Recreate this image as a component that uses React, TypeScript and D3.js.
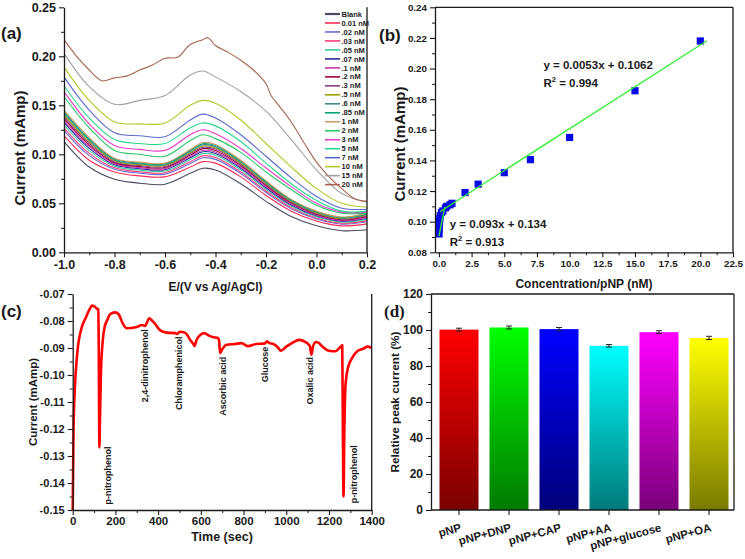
import * as d3 from "d3";
import { useEffect, useRef } from "react";

const FONT = "Arial, 'Liberation Sans', Helvetica, sans-serif";
const SERIF = "'Liberation Serif', 'DejaVu Serif', serif";
const ink = "#1a1a1a";

// ---- (a) DPV curves ----
const concLabels = ["Blank", "0.01 nM", ".02 nM", ".03 nM", ".05 nM", ".07 nM", ".1 nM", ".2 nM", ".3 nM", ".5 nM", ".6 nM", ".85 nM", "1 nM", "2 nM", "3 nM", "5 nM", "7 nM", "10 nM", "15 nM", "20 nM"];
const concColors = ["#4a4a62", "#ff2a55", "#6a6ad0", "#ff3c7c", "#3cc8a0", "#2c2c9c", "#c83caa", "#a0003c", "#8c3c8c", "#a0a000", "#3c8c8c", "#00a078", "#c8a064", "#28c864", "#e83cc8", "#28d88c", "#5a6ac8", "#b4c828", "#a0a0a0", "#a86450"];
const potentials = [-1.0, -0.9, -0.8, -0.7, -0.6, -0.5, -0.45, -0.4, -0.3, -0.2, -0.1, 0.0, 0.1, 0.2];
const dpvCurrents = [
  [0.113, 0.087, 0.0745, 0.0705, 0.0695, 0.0806, 0.0857, 0.084, 0.07, 0.052, 0.0365, 0.027, 0.022, 0.023],
  [0.119, 0.094, 0.082, 0.078, 0.077, 0.087, 0.0925, 0.091, 0.077, 0.058, 0.042, 0.032, 0.027, 0.029],
  [0.1242, 0.0986, 0.0848, 0.0808, 0.0798, 0.0906, 0.0964, 0.0948, 0.0804, 0.061, 0.0444, 0.034, 0.0288, 0.0312],
  [0.1268, 0.1009, 0.0862, 0.0822, 0.0812, 0.0924, 0.0984, 0.0967, 0.0821, 0.0625, 0.0456, 0.035, 0.0297, 0.0323],
  [0.1299, 0.1037, 0.0879, 0.0839, 0.0829, 0.0946, 0.1007, 0.099, 0.0841, 0.0643, 0.047, 0.0362, 0.0308, 0.0336],
  [0.1325, 0.106, 0.0893, 0.0853, 0.0843, 0.0964, 0.1026, 0.1009, 0.0858, 0.0658, 0.0482, 0.0372, 0.0317, 0.0347],
  [0.1346, 0.1078, 0.0904, 0.0864, 0.0854, 0.0978, 0.1042, 0.1024, 0.0872, 0.067, 0.0492, 0.038, 0.0324, 0.0356],
  [0.1367, 0.1096, 0.0915, 0.0875, 0.0865, 0.0992, 0.1058, 0.1039, 0.0886, 0.0682, 0.0502, 0.0388, 0.0331, 0.0365],
  [0.1385, 0.1113, 0.0925, 0.0885, 0.0875, 0.1005, 0.1071, 0.1053, 0.0898, 0.0693, 0.051, 0.0395, 0.0338, 0.0373],
  [0.1403, 0.1129, 0.0935, 0.0895, 0.0885, 0.1018, 0.1085, 0.1066, 0.0909, 0.0703, 0.0518, 0.0402, 0.0344, 0.038],
  [0.1419, 0.1142, 0.0943, 0.0903, 0.0893, 0.1028, 0.1097, 0.1077, 0.092, 0.0712, 0.0526, 0.0408, 0.0349, 0.0387],
  [0.1434, 0.1156, 0.0952, 0.0912, 0.0902, 0.1039, 0.1108, 0.1089, 0.093, 0.0721, 0.0533, 0.0414, 0.0355, 0.0393],
  [0.145, 0.117, 0.096, 0.092, 0.091, 0.105, 0.112, 0.11, 0.094, 0.073, 0.054, 0.042, 0.036, 0.04],
  [0.159, 0.127, 0.104, 0.1, 0.098, 0.114, 0.12, 0.116, 0.102, 0.082, 0.064, 0.048, 0.04, 0.04],
  [0.164, 0.131, 0.109, 0.105, 0.104, 0.12, 0.125, 0.121, 0.106, 0.086, 0.067, 0.05, 0.041, 0.041],
  [0.17, 0.137, 0.115, 0.111, 0.111, 0.127, 0.132, 0.129, 0.113, 0.091, 0.07, 0.053, 0.042, 0.042],
  [0.179, 0.145, 0.122, 0.119, 0.118, 0.135, 0.141, 0.137, 0.12, 0.098, 0.076, 0.057, 0.045, 0.044],
  [0.189, 0.155, 0.133, 0.131, 0.132, 0.15, 0.155, 0.152, 0.135, 0.111, 0.087, 0.065, 0.05, 0.046],
  [0.203, 0.169, 0.151, 0.155, 0.16, 0.181, 0.185, 0.179, 0.164, 0.144, 0.115, 0.084, 0.06, 0.051],
];
const potentials20 = [-1.0, -0.95, -0.9, -0.85, -0.8, -0.75, -0.7, -0.65, -0.6, -0.55, -0.5, -0.45, -0.43, -0.4, -0.35, -0.3, -0.25, -0.2, -0.18, -0.15, -0.1, -0.05, 0, 0.05, 0.1, 0.15, 0.2];
const currents20 = [0.217, 0.2, 0.186, 0.175, 0.178, 0.18, 0.186, 0.191, 0.198, 0.199, 0.212, 0.217, 0.219, 0.211, 0.204, 0.196, 0.186, 0.172, 0.16, 0.15, 0.133, 0.112, 0.092, 0.077, 0.065, 0.055, 0.052];
const aXTicks = [-1.0, -0.8, -0.6, -0.4, -0.2, 0.0, 0.2];
const aXMinor = [-0.9, -0.7, -0.5, -0.3, -0.1, 0.1];
const aYTicks = [0, 0.05, 0.1, 0.15, 0.2, 0.25];
const aYMinor = [0.025, 0.075, 0.125, 0.175, 0.225];

// ---- (b) calibration ----
const calibConc = [0.01, 0.02, 0.03, 0.05, 0.07, 0.1, 0.2, 0.3, 0.5, 0.6, 0.85, 1, 2, 3, 5, 7, 10, 15, 20];
const calibCurrent = [0.092, 0.095, 0.098, 0.1, 0.102, 0.104, 0.106, 0.107, 0.109, 0.11, 0.111, 0.112, 0.119, 0.1245, 0.132, 0.1405, 0.155, 0.1855, 0.218];
const fitLow: [number, number][] = [[0.0, 0.0905], [0.45, 0.1095]];
const fitHigh: [number, number][] = [[0.08, 0.1065], [20.5, 0.2182]];
const bXTicks = [0, 2.5, 5, 7.5, 10, 12.5, 15, 17.5, 20, 22.5];
const bXMinor = [1.25, 3.75, 6.25, 8.75, 11.25, 13.75, 16.25, 18.75, 21.25];
const bYTicks = [0.08, 0.1, 0.12, 0.14, 0.16, 0.18, 0.2, 0.22, 0.24];
const bYMinor = [0.09, 0.11, 0.13, 0.15, 0.17, 0.19, 0.21, 0.23];

// ---- (c) amperometric response ----
const timeSec = [0, 4, 10, 20, 40, 60, 80, 90, 100, 115, 120, 122, 125, 128, 132, 140, 150, 160, 175, 198, 215, 235, 253, 300, 323, 340, 345, 359, 370, 385, 410, 440, 480, 490, 500, 520, 535, 550, 565, 570, 580, 600, 615, 640, 660, 680, 685, 690, 700, 720, 760, 790, 820, 860, 900, 910, 920, 940, 960, 975, 1000, 1030, 1060, 1090, 1110, 1118, 1125, 1140, 1150, 1170, 1200, 1230, 1255, 1262, 1265, 1268, 1272, 1278, 1290, 1310, 1335, 1360, 1380, 1400];
const ampCurrent = [-0.15, -0.12, -0.105, -0.093, -0.083, -0.079, -0.0755, -0.0743, -0.0745, -0.0755, -0.0757, -0.09, -0.1268, -0.115, -0.1, -0.088, -0.082, -0.08, -0.0775, -0.0768, -0.0775, -0.081, -0.0827, -0.0822, -0.0815, -0.0818, -0.081, -0.079, -0.0797, -0.081, -0.0835, -0.0843, -0.0845, -0.0848, -0.084, -0.0842, -0.085, -0.087, -0.0885, -0.0893, -0.087, -0.085, -0.0845, -0.0855, -0.086, -0.0863, -0.087, -0.0918, -0.0905, -0.0888, -0.0885, -0.0882, -0.0893, -0.0885, -0.0883, -0.0875, -0.0882, -0.0885, -0.0897, -0.091, -0.0895, -0.088, -0.087, -0.0878, -0.0892, -0.0925, -0.0895, -0.0878, -0.088, -0.0895, -0.091, -0.0912, -0.0895, -0.089, -0.12, -0.145, -0.12, -0.103, -0.097, -0.0935, -0.091, -0.0903, -0.0895, -0.09];
const interferents = ["p-nitrophenol", "2,4-dinitrophenol", "Chloramphenicol", "Ascorbic acid", "Glucose", "Oxalic acid", "p-nitrophenol"];
const labelTimes = [166, 339, 498, 701, 900, 1111, 1318];
const labelCurrents = [-0.148, -0.1101, -0.113, -0.1151, -0.1027, -0.1109, -0.1475];
const cXTicks = [0, 200, 400, 600, 800, 1000, 1200, 1400];
const cXMinor = [100, 300, 500, 700, 900, 1100, 1300];
const cYTicks = [-0.15, -0.14, -0.13, -0.12, -0.11, -0.1, -0.09, -0.08, -0.07];
const cYMinor = [-0.145, -0.135, -0.125, -0.115, -0.105, -0.095, -0.085, -0.075];

// ---- (d) selectivity ----
const samples = ["pNP", "pNP+DNP", "pNP+CAP", "pNP+AA", "pNP+glucose", "pNP+OA"];
const relCurrent = [100.2, 101.4, 100.5, 91.2, 98.8, 95.6];
const relError = [0.8, 0.8, 0.9, 0.7, 0.8, 0.9];
const barTop = ["#ff0000", "#00ff00", "#0000ff", "#00ffff", "#ff00ff", "#ffff00"];
const barBottom = ["#7a0000", "#007a00", "#00007a", "#007a7a", "#7a007a", "#7a7a00"];
const dYTicks = [0, 20, 40, 60, 80, 100, 120];
const dYMinor = [10, 30, 50, 70, 90, 110];

type G = d3.Selection<any, unknown, null, undefined>;

function major(root: G, axis: d3.Axis<any>, tx: number, ty: number, fs: number, pad = 3) {
  const g = root.append("g").attr("transform", `translate(${tx},${ty})`).call(axis.tickSize(5).tickSizeOuter(0).tickPadding(pad));
  g.attr("font-family", FONT).attr("font-size", fs).attr("font-weight", "bold");
  g.select(".domain").attr("stroke", ink).attr("stroke-width", 1.3);
  g.selectAll(".tick line").attr("stroke", ink).attr("stroke-width", 1.1);
  g.selectAll(".tick text").attr("fill", ink);
  return g;
}

function minor(root: G, axis: d3.Axis<any>, tx: number, ty: number) {
  const g = root.append("g").attr("transform", `translate(${tx},${ty})`).call(axis.tickSize(3).tickSizeOuter(0).tickFormat(() => ""));
  g.select(".domain").remove();
  g.selectAll(".tick line").attr("stroke", ink).attr("stroke-width", 1);
}

function vtitle(root: G, text: string, x: number, y: number, fs: number) {
  root.append("text").attr("transform", `translate(${x},${y}) rotate(-90)`).attr("text-anchor", "middle")
    .attr("font-family", FONT).attr("font-weight", "bold").attr("font-size", fs).attr("fill", ink).text(text);
}

function htitle(root: G, text: string, x: number, y: number, fs: number) {
  root.append("text").attr("x", x).attr("y", y).attr("text-anchor", "middle")
    .attr("font-family", FONT).attr("font-weight", "bold").attr("font-size", fs).attr("fill", ink).text(text);
}

function frameLine(root: G, x1: number, y1: number, x2: number, y2: number) {
  root.append("line").attr("x1", x1).attr("y1", y1).attr("x2", x2).attr("y2", y2).attr("stroke", ink).attr("stroke-width", 1.3);
}

const App = () => {
  const ref = useRef<SVGSVGElement>(null);

  useEffect(() => {
    const svg = d3.select(ref.current).html("") as unknown as G;
    svg.append("rect").attr("width", 745).attr("height", 559).attr("fill", "#fff");

    // ================= (a) =================
    const xA = d3.scaleLinear().domain([-1, 0.2]).range([64, 367]);
    const yA = d3.scaleLinear().domain([0, 0.25]).range([252.3, 7.3]);
    const lineA = d3.line<[number, number]>().x((d) => xA(d[0])).y((d) => yA(d[1])).curve(d3.curveCatmullRom.alpha(0.5));
    const seriesA: [number, number][][] = dpvCurrents.map((row) => row.map((v, i) => [potentials[i], v] as [number, number]));
    seriesA.push(currents20.map((v, i) => [potentials20[i], v] as [number, number]));
    seriesA.forEach((s, i) => {
      svg.append("path").attr("d", lineA(s)).attr("fill", "none").attr("stroke", concColors[i]).attr("stroke-width", 1.1);
    });
    minor(svg, d3.axisBottom(xA).tickValues(aXMinor), 0, 252.3);
    minor(svg, d3.axisLeft(yA).tickValues(aYMinor), 64, 0);
    major(svg, d3.axisBottom(xA).tickValues(aXTicks).tickFormat((d: any) => d.toFixed(1)), 0, 252.3, 12.5);
    major(svg, d3.axisLeft(yA).tickValues(aYTicks).tickFormat((d: any) => d.toFixed(2)), 64, 0, 12.5);
    frameLine(svg, 367, 252.3, 367, 7.3);
    htitle(svg, "E/(V vs Ag/AgCl)", 215.5, 291, 12);
    vtitle(svg, "Current (mAmp)", 25, 148, 15);

    // legend
    const leg = svg.append("g");
    concLabels.forEach((lab, i) => {
      const y = 14 + i * 8.98;
      leg.append("line").attr("x1", 325).attr("x2", 340).attr("y1", y).attr("y2", y)
        .attr("stroke", concColors[i]).attr("stroke-width", i === 0 ? 2.2 : 1.6);
      leg.append("text").attr("x", 341.5).attr("y", y).attr("dy", "0.35em").attr("font-family", FONT)
        .attr("font-size", 7.5).attr("font-weight", "bold").attr("fill", "#222").text(lab);
    });
    svg.append("text").attr("x", 1).attr("y", 39).attr("font-family", FONT).attr("font-weight", "bold").attr("font-size", 17).attr("fill", ink).text("(a)");

    // ================= (b) =================
    const xB = d3.scaleLinear().domain([-0.3, 22.5]).range([435, 733]);
    const yB = d3.scaleLinear().domain([0.08, 0.24]).range([252.3, 7.3]);
    const lineB = d3.line<[number, number]>().x((d) => xB(d[0])).y((d) => yB(d[1]));
    svg.append("g").selectAll("rect").data(calibConc).enter().append("rect")
      .attr("x", (d) => xB(d) - 3.6).attr("y", (_d, i) => yB(calibCurrent[i]) - 3.6)
      .attr("width", 7.2).attr("height", 7.2).attr("fill", "#0a0ae6");
    [fitLow, fitHigh].forEach((f) => {
      svg.append("path").attr("d", lineB(f)).attr("stroke", "#33ee33").attr("stroke-width", 1.3).attr("fill", "none");
    });
    minor(svg, d3.axisBottom(xB).tickValues(bXMinor), 0, 252.3);
    minor(svg, d3.axisLeft(yB).tickValues(bYMinor), 435, 0);
    major(svg, d3.axisBottom(xB).tickValues(bXTicks).tickFormat((d: any) => d.toFixed(1)), 0, 252.3, 9.8);
    major(svg, d3.axisLeft(yB).tickValues(bYTicks).tickFormat((d: any) => d.toFixed(2)), 435, 0, 9.8);
    frameLine(svg, 733, 252.3, 733, 7.3);
    frameLine(svg, 435, 7.3, 733, 7.3);
    htitle(svg, "Concentration/pNP (nM)", 584, 288, 12);
    vtitle(svg, "Current (mAmp)", 405, 144, 15);
    const eq = (x: number, y: number, line1: string, r2: string) => {
      const t = svg.append("text").attr("font-family", FONT).attr("font-weight", "bold").attr("font-size", 11.5).attr("fill", ink);
      t.append("tspan").attr("x", xB(x)).attr("y", yB(y)).text(line1);
      const t2 = svg.append("text").attr("x", xB(x)).attr("y", yB(y) + 18).attr("font-family", FONT).attr("font-weight", "bold").attr("font-size", 11.5).attr("fill", ink);
      t2.append("tspan").text("R");
      t2.append("tspan").attr("font-size", 7.5).attr("dy", -5).text("2");
      t2.append("tspan").attr("dy", 5).text(" = " + r2);
    };
    eq(8.0, 0.1997, "y = 0.0053x + 0.1062", "0.994");
    eq(0.83, 0.0959, "y = 0.093x + 0.134", "0.913");
    svg.append("text").attr("x", 379).attr("y", 41).attr("font-family", FONT).attr("font-weight", "bold").attr("font-size", 17).attr("fill", ink).text("(b)");

    // ================= (c) =================
    const xC = d3.scaleLinear().domain([0, 1400]).range([72.7, 371.7]);
    const yC = d3.scaleLinear().domain([-0.15, -0.07]).range([510, 294]);
    const lineC = d3.line<number>().x((_d, i) => xC(timeSec[i])).y((d) => yC(d)).curve(d3.curveMonotoneX);
    svg.append("path").attr("d", lineC(ampCurrent)).attr("fill", "none").attr("stroke", "#ff0000").attr("stroke-width", 2.6).attr("stroke-linejoin", "round");
    interferents.forEach((lab, i) => {
      svg.append("text").attr("transform", `translate(${xC(labelTimes[i])},${yC(labelCurrents[i])}) rotate(-90)`)
        .attr("dy", "0.35em").attr("font-family", FONT).attr("font-weight", "bold").attr("font-size", 9).attr("fill", ink).text(lab);
    });
    minor(svg, d3.axisBottom(xC).tickValues(cXMinor), 0, 510);
    minor(svg, d3.axisLeft(yC).tickValues(cYMinor), 72.7, 0);
    major(svg, d3.axisBottom(xC).tickValues(cXTicks).tickFormat((d: any) => String(d)), 0, 510, 11.5, 2);
    major(svg, d3.axisLeft(yC).tickValues(cYTicks).tickFormat((d: any) => d.toFixed(2)), 72.7, 0, 11);
    frameLine(svg, 371.7, 510, 371.7, 294);
    htitle(svg, "Time (sec)", 222, 541, 12.5);
    vtitle(svg, "Current (mAmp)", 37, 402, 11.5);
    svg.append("text").attr("x", 1).attr("y", 317).attr("font-family", FONT).attr("font-weight", "bold").attr("font-size", 17).attr("fill", ink).text("(c)");

    // ================= (d) =================
    const xD = d3.scaleBand<string>().domain(samples).range([434, 734]).paddingInner(0.22).paddingOuter(0.11);
    const yD = d3.scaleLinear().domain([0, 120]).range([510, 294]);
    const defs = svg.append("defs");
    samples.forEach((_s, i) => {
      const gr = defs.append("linearGradient").attr("id", `bar${i}`).attr("x1", 0).attr("y1", 0).attr("x2", 0).attr("y2", 1);
      gr.append("stop").attr("offset", "0%").attr("stop-color", barTop[i]);
      gr.append("stop").attr("offset", "100%").attr("stop-color", barBottom[i]);
    });
    svg.append("g").selectAll("rect").data(samples).enter().append("rect")
      .attr("x", (d) => xD(d)!).attr("y", (_d, i) => yD(relCurrent[i]))
      .attr("width", xD.bandwidth()).attr("height", (_d, i) => yD(0) - yD(relCurrent[i]))
      .attr("fill", (_d, i) => `url(#bar${i})`);
    const eb = svg.append("g").attr("stroke", "#222").attr("stroke-width", 1);
    samples.forEach((s, i) => {
      const cx = xD(s)! + xD.bandwidth() / 2;
      const lo = yD(relCurrent[i] - relError[i]);
      const hi = yD(relCurrent[i] + relError[i]);
      eb.append("line").attr("x1", cx).attr("x2", cx).attr("y1", lo).attr("y2", hi);
      eb.append("line").attr("x1", cx - 3).attr("x2", cx + 3).attr("y1", lo).attr("y2", lo);
      eb.append("line").attr("x1", cx - 3).attr("x2", cx + 3).attr("y1", hi).attr("y2", hi);
    });
    minor(svg, d3.axisLeft(yD).tickValues(dYMinor), 431, 0);
    major(svg, d3.axisLeft(yD).tickValues(dYTicks).tickFormat((d: any) => String(d)), 431, 0, 12);
    const gx = major(svg, d3.axisBottom(xD).tickFormat(() => ""), 0, 510, 12);
    gx.select(".domain").remove();
    frameLine(svg, 431, 510, 734, 510);
    frameLine(svg, 431, 294, 734, 294);
    frameLine(svg, 734, 294, 734, 510);
    samples.forEach((s) => {
      const cx = xD(s)! + xD.bandwidth() / 2;
      svg.append("text").attr("transform", `translate(${cx + 3},531) rotate(-15)`).attr("text-anchor", "end")
        .attr("font-family", FONT).attr("font-weight", "bold").attr("font-size", 11.5).attr("fill", ink).text(s);
    });
    vtitle(svg, "Relative peak current (%)", 399, 402, 11.8);
    svg.append("text").attr("x", 384).attr("y", 317).attr("font-family", SERIF).attr("font-weight", "bold").attr("font-size", 17).attr("fill", ink).text("(d)");
  }, []);

  return (
    <div style={{ position: "absolute", left: 0, top: 0 }}>
      <svg ref={ref} width={745} height={559} style={{ display: "block" }}></svg>
    </div>
  );
};

export default App;
